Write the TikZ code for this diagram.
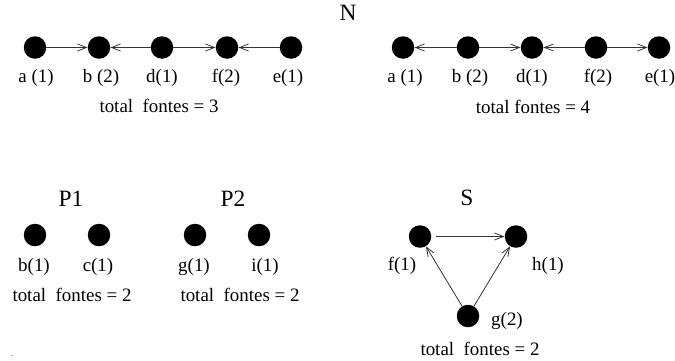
\documentclass[tikz,border=0pt]{standalone}
\usepackage{fontspec}
\setmainfont{Liberation Serif}
\usetikzlibrary{arrows.meta}
\begin{document}
\begin{tikzpicture}[x=1bp,y=-1bp,
  vert/.style={circle,fill=black,inner sep=0pt,minimum size=22.5bp},
  txt/.style={inner sep=0pt,anchor=base,font=\fontsize{19}{22}\selectfont},
  title/.style={inner sep=0pt,anchor=base,font=\fontsize{23.5}{27}\selectfont},
  arr/.style={-{Straight Barb[length=9bp,width=7bp,line width=0.8bp]},line width=0.8bp,draw=black!80}]
\useasboundingbox (0,0) rectangle (675,360);
% top-left
\node[vert] (a1) at (35,47.5) {};
\node[vert] (b1) at (99,47.5) {};
\node[vert] (d1) at (162,47.5) {};
\node[vert] (f1) at (227,47.5) {};
\node[vert] (e1) at (291,47.5) {};
\draw[arr] (a1) -- (b1);
\draw[arr] (d1) -- (b1);
\draw[arr] (d1) -- (f1);
\draw[arr] (e1) -- (f1);
\node[txt] (la1) at (36,82) {a (1)};
\node[txt] (lb1) at (101,82) {b (2)};
\node[txt] (ld1) at (162,82) {d(1)};
\node[txt] (lf1) at (226,82) {f(2)};
\node[txt] (le1) at (288,82) {e(1)};
\node[txt] (t1) at (159,112) {total\ \ fontes = 3};
% N
\node[title] (N) at (348,20) {N};
% top-right
\node[vert] (a2) at (403,47.5) {};
\node[vert] (b2) at (468,47.5) {};
\node[vert] (d2) at (532,47.5) {};
\node[vert] (f2) at (596,47.5) {};
\node[vert] (e2) at (659,47.5) {};
\draw[arr] (b2) -- (a2);
\draw[arr] (b2) -- (d2);
\draw[arr] (f2) -- (d2);
\draw[arr] (f2) -- (e2);
\node[txt] (la2) at (405,82) {a (1)};
\node[txt] (lb2) at (470,82) {b (2)};
\node[txt] (ld2) at (532,82) {d(1)};
\node[txt] (lf2) at (598,82) {f(2)};
\node[txt] (le2) at (660,82) {e(1)};
\node[txt] (t2) at (533,113) {total fontes = 4};
% P1
\node[title] (P1) at (71,206) {P1};
\node[vert] (b3) at (35,235) {};
\node[vert] (c3) at (99,235) {};
\node[txt] (lb3) at (34,271) {b(1)};
\node[txt] (lc3) at (98,271) {c(1)};
\node[txt] (t3) at (72,301) {total\ \ fontes = 2};
% P2
\node[title] (P2) at (233,206) {P2};
\node[vert] (g4) at (195,235) {};
\node[vert] (i4) at (259,235) {};
\node[txt] (lg4) at (194,271) {g(1)};
\node[txt] (li4) at (265,271) {i(1)};
\node[txt] (t4) at (240,301) {total\ \ fontes = 2};
% S
\node[title] (S) at (467,205) {S};
\node[vert] (f5) at (420,236.5) {};
\node[vert] (h5) at (516,236.5) {};
\node[vert] (g5) at (468,316) {};
\draw[arr,shorten <=5bp] (f5) -- (h5);
\draw[arr] (g5) -- (f5);
\draw[arr] (g5) -- (h5);
\node[txt] (lf5) at (402,270) {f(1)};
\node[txt] (lh5) at (548,270) {h(1)};
\node[txt] (lg5) at (507,325) {g(2)};
\node[txt] (t5) at (480,355) {total\ \ fontes = 2};
\node[txt,font=\fontsize{8}{9}\selectfont] (dot) at (12,356) {.};
\end{tikzpicture}
\end{document}
